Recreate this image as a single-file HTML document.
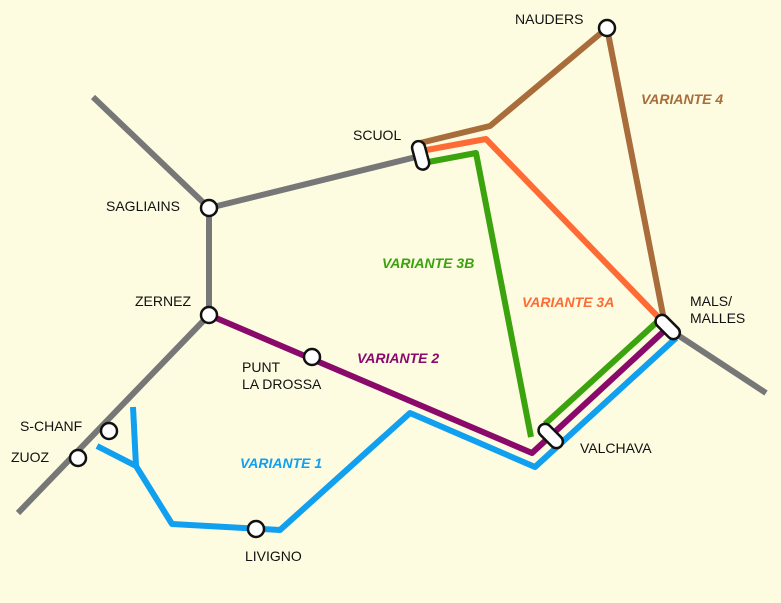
<!DOCTYPE html>
<html><head><style>
html,body{margin:0;padding:0;background:#fdfce1;}
svg{display:block;}
text{font-family:"Liberation Sans",sans-serif;font-size:14px;fill:#111;}
.v{font-weight:bold;font-style:italic;font-size:14px;}
</style></head><body>
<svg width="781" height="603" viewBox="0 0 781 603">
<rect width="781" height="603" fill="#fdfce1"/>
<g fill="none" stroke-linejoin="round" stroke-linecap="butt" stroke-width="6">
<g stroke="#777">
<polyline points="93,97 209,208 420,156"/>
<polyline points="209,208 209,315 18,513"/>
<polyline points="667,328 766,393"/>
</g>
<polyline stroke="#a86d3a" points="420,143 490,126 607,28 664,320"/>
<polyline stroke="#ff6b35" points="421,151 486,139 663,322"/>
<polyline stroke="#3aa30e" points="423,163 476,153 531,437"/>
<polyline stroke="#3aa30e" points="545,424 657,322"/>
<polyline stroke="#8a0a6b" points="209,315 532,453 663,332"/>
<polyline stroke="#119ff0" points="133,407 136,466"/>
<polyline stroke="#119ff0" points="97,446 136,466 172,524 280,530 410,413 535,467 676,338"/>
</g>
<g fill="#fff" stroke="#111" stroke-width="2.5">
<circle cx="607" cy="28" r="8"/>
<circle cx="209" cy="208" r="8"/>
<circle cx="209" cy="315" r="8"/>
<circle cx="312" cy="357" r="8"/>
<circle cx="109" cy="431" r="8"/>
<circle cx="78" cy="458" r="8"/>
<circle cx="256" cy="529" r="8"/>
<rect x="414" y="141" width="13" height="29" rx="6.5" transform="rotate(-15 420 155)"/>
<rect x="661" y="313" width="13" height="29" rx="6.5" transform="rotate(-45 667 327)"/>
<rect x="544" y="422" width="13" height="29" rx="6.5" transform="rotate(-45 550 436)"/>
</g>
<text x="515" y="24">NAUDERS</text>
<text x="353" y="140">SCUOL</text>
<text x="106" y="211">SAGLIAINS</text>
<text x="135" y="306">ZERNEZ</text>
<text x="242" y="372">PUNT</text>
<text x="242" y="389">LA DROSSA</text>
<text x="20" y="431">S-CHANF</text>
<text x="11" y="462">ZUOZ</text>
<text x="245" y="561">LIVIGNO</text>
<text x="580" y="453">VALCHAVA</text>
<text x="690" y="306">MALS/</text>
<text x="690" y="323">MALLES</text>
<text class="v" x="641" y="104" style="fill:#a86d3a">VARIANTE 4</text>
<text class="v" x="382" y="268" style="fill:#3aa30e">VARIANTE 3B</text>
<text class="v" x="522" y="307" style="fill:#ff6b35">VARIANTE 3A</text>
<text class="v" x="357" y="363" style="fill:#8a0a6b">VARIANTE 2</text>
<text class="v" x="240" y="468" style="fill:#119ff0">VARIANTE 1</text>
</svg>
</body></html>
